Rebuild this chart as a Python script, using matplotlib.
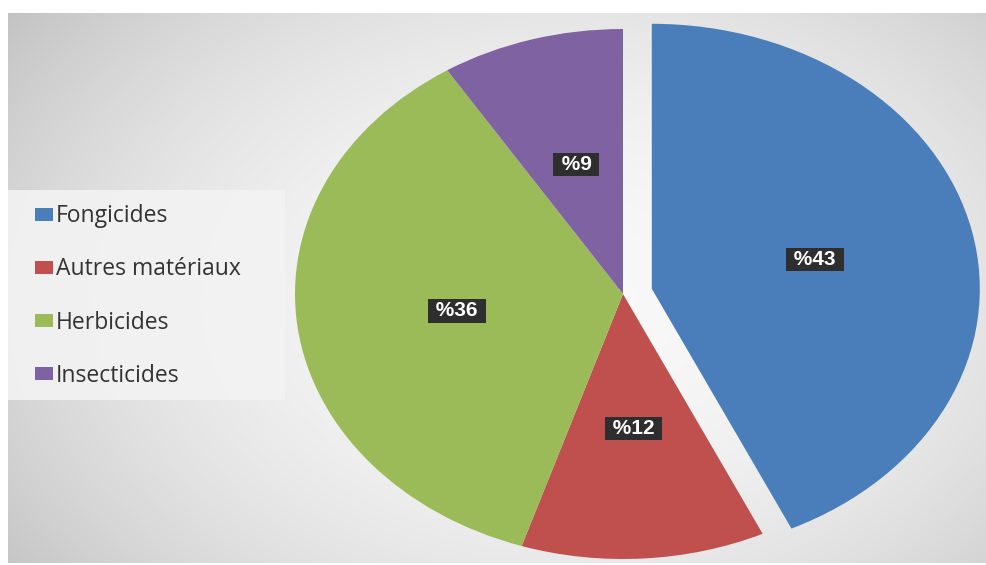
import matplotlib
matplotlib.use("Agg")
import matplotlib.pyplot as plt
import numpy as np
from matplotlib.patches import Rectangle

# data
categories = ["Fongicides", "Autres matériaux", "Herbicides", "Insecticides"]
shares = [43, 12, 36, 9]
colors = ["#4A7EBB", "#C0504D", "#9BBB59", "#7F62A1"]
explode = [0.09, 0, 0, 0]

W, H = 987, 565
fig = plt.figure(figsize=(W / 100, H / 100), dpi=100)
fig.patch.set_facecolor("white")

# grey radial background, lighter round the pie
x0, x1, y0, y1 = 8, 987, 13, 563
bg = fig.add_axes([x0 / W, 1 - y1 / H, (x1 - x0) / W, (y1 - y0) / H], zorder=0)
xx, yy = np.meshgrid(np.arange(x0, x1), np.arange(y0, y1))
d2 = ((xx - 560) / 600) ** 2 + ((yy - 300) / 420) ** 2
shade = np.clip(0.975 - 0.16 * d2, 0.76, 1)
bg.imshow(np.dstack([shade] * 3), aspect="auto", interpolation="bilinear")
bg.axis("off")

# lighter panel behind the legend
fig.add_artist(Rectangle((8 / W, 1 - 400 / H), 277 / W, 210 / H,
                         transform=fig.transFigure, facecolor="#f3f3f3",
                         edgecolor="none", alpha=0.9, zorder=0.5))

ax = fig.add_axes([0, 0, 1, 1], zorder=1)
ax.patch.set_alpha(0)

wedges, texts, autotexts = ax.pie(
    shares, colors=colors, explode=explode, startangle=90, counterclock=False,
    autopct=lambda p: f" %{p:.0f} ", pctdistance=0.51,
    wedgeprops=dict(linewidth=0),
    textprops=dict(color="white", fontsize=15, fontweight="bold",
                   family="Liberation Sans"))
for t in autotexts:
    t.set_bbox(dict(boxstyle="square,pad=0.1", facecolor="#2E2E2E", edgecolor="none"))

# stretch the pie to an ellipse like the original
cx, cy, rx, ry = 623, 565 - 294, 328, 265
ax.set_aspect("auto")
ax.set_xlim(-cx / rx, (W - cx) / rx)
ax.set_ylim(-cy / ry, (H - cy) / ry)
ax.axis("off")

leg = ax.legend(wedges, categories, loc="center left",
                bbox_to_anchor=(35 / W, 1 - 296 / H), bbox_transform=fig.transFigure,
                frameon=False, borderpad=0, borderaxespad=0,
                handlelength=0.8, handleheight=0.52, handletextpad=0.1,
                labelspacing=1.27, prop=dict(family="Open Sans", size=16.5))
for t in leg.get_texts():
    t.set_color("#333333")

fig.savefig("out.png", dpi=100)
